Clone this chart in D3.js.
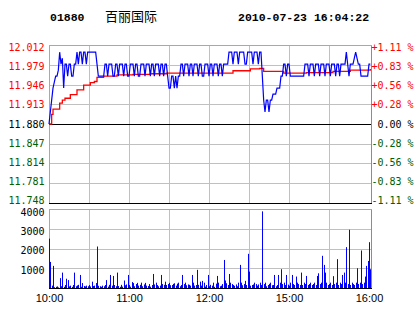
<!DOCTYPE html>
<html>
<head>
<meta charset="utf-8">
<script src="https://cdn.jsdelivr.net/npm/d3@7"></script>
<style>
  body { margin: 0; background: #fff; }
  svg text { white-space: pre; }
</style>
</head>
<body>
<div class="plot"></div>
<script>
// intraday chart 01880, price + volume

// header texts
var code = "01880";
var stockName = "百丽国际";
var stamp = "2010-07-23 16:04:22";

// tick labels
var priceTicks = ["12.012", "11.979", "11.946", "11.913", "11.880", "11.847", "11.814", "11.781", "11.748"];
var pctTicks = ["+1.11 %", "+0.83 %", "+0.56 %", "+0.28 %", " 0.00 %", "-0.28 %", "-0.56 %", "-0.83 %", "-1.11 %"];
var volTicks = [4000, 3000, 2000, 1000];
var timeLabels = ["10:00", "11:00", "12:00", "15:00", "16:00"];
var timeLabelMin = [0, 60, 120, 180, 240];

// price per minute (minute 0 = 10:00)
var price = [
  11.88,11.90,11.92,11.94,11.95,11.96,11.96,11.97,12.00,11.98,
  11.99,11.94,11.98,11.98,11.96,11.98,11.98,11.96,11.96,11.98,
  11.98,12.00,11.98,12.00,12.00,11.98,12.00,12.00,11.98,12.00,
  12.00,12.00,12.00,12.00,12.00,12.00,11.98,11.96,11.96,11.96,
  11.96,11.96,11.98,11.98,11.96,11.98,11.98,11.98,11.96,11.96,
  11.98,11.98,11.96,11.98,11.98,11.98,11.96,11.98,11.98,11.96,
  11.96,11.98,11.98,11.98,11.96,11.98,11.98,11.96,11.96,11.98,
  11.98,11.98,11.96,11.98,11.98,11.98,11.96,11.98,11.98,11.96,
  11.98,11.98,11.98,11.96,11.98,11.98,11.96,11.98,11.98,11.96,
  11.94,11.94,11.96,11.96,11.94,11.96,11.94,11.96,11.96,11.98,
  11.98,11.96,11.98,11.98,11.98,11.96,11.98,11.98,11.96,11.98,
  11.98,11.98,11.96,11.98,11.98,11.96,11.96,11.98,11.98,11.98,
  11.96,11.98,11.98,11.96,11.98,11.98,11.98,11.96,11.98,11.98,
  11.96,11.98,11.98,11.98,11.98,12.00,12.00,12.00,11.98,12.00,
  12.00,12.00,11.98,12.00,12.00,12.00,12.00,11.98,11.98,12.00,
  12.00,12.00,12.00,11.98,12.00,12.00,12.00,11.98,12.00,12.00,
  11.96,11.92,11.90,11.92,11.92,11.90,11.92,11.92,11.93,11.93,
  11.93,11.94,11.94,11.94,11.96,11.96,11.98,11.98,11.96,11.98,
  11.98,11.96,11.96,11.96,11.96,11.96,11.96,11.96,11.96,11.96,
  11.96,11.96,11.98,11.98,11.98,11.96,11.98,11.98,11.98,11.96,
  11.98,11.98,11.98,11.96,11.98,11.98,11.98,11.96,11.98,11.98,
  11.98,11.96,11.98,11.98,11.98,11.96,11.98,11.98,11.96,11.98,
  11.98,11.98,11.98,12.00,11.98,11.96,11.98,11.98,11.98,11.99,
  12.00,11.99,11.98,11.98,11.96,11.96,11.96,11.96,11.96,11.96,
  11.98,11.98
];

// volume per minute
var volume = [
  2500,1320,120,1120,40,60,80,30,500,90,
  780,60,150,470,400,80,120,60,150,780,
  90,130,160,660,60,250,100,80,120,90,
  150,80,320,100,120,250,2100,110,90,60,
  120,90,150,400,70,160,660,120,610,150,
  90,780,100,60,160,70,380,140,180,660,
  150,70,300,250,90,200,260,120,160,270,
  90,180,260,120,100,200,70,150,710,180,
  270,150,90,120,660,200,160,320,150,200,
  260,140,150,210,240,120,220,270,90,150,
  660,200,270,140,180,160,120,660,270,120,
  150,920,160,320,120,360,270,70,150,660,
  90,160,120,270,60,220,610,270,90,120,
  200,1420,380,240,150,710,270,200,150,110,
  180,90,270,1170,270,140,200,360,150,1730,
  830,120,150,180,270,200,120,180,270,150,
  3880,200,270,90,150,210,270,140,150,660,
  90,150,660,270,950,200,270,150,660,170,
  120,270,660,200,150,580,270,200,150,780,
  150,270,200,610,150,200,270,150,200,270,
  150,610,745,200,270,1630,1170,780,270,150,
  200,270,150,600,200,270,1460,150,270,200,
  660,780,270,2070,200,2950,150,270,200,150,
  270,1000,200,270,1900,200,270,580,1120,1370,
  2320,950
];

// average price line (minute where it steps, value)
var avgMin = [0,2,3,8,10,12,16,21,26,31,34,36,41,51,63,76,88,113,138,151,158,161,176,193,213,226,241];
var avgVal = [11.880,11.896,11.905,11.915,11.920,11.923,11.929,11.937,11.945,11.949,11.951,11.958,11.960,
              11.962,11.963,11.964,11.965,11.965,11.969,11.972,11.973,11.968,11.965,11.966,11.968,11.970,11.972];

var svgWidth = 414, svgHeight = 314;
var left = 49, right = 371;
var pTop = 45, pBottom = 203;
var vTop = 209, vBottom = 288;

var svg = d3.select(".plot").append("svg")
  .attr("width", svgWidth)
  .attr("height", svgHeight)
  .style("display", "block");

var x = d3.scaleLinear().domain([0, 240]).range([left, left + 320]);
var y = d3.scaleLinear().domain([11.748, 12.012]).range([pBottom, pTop]);
var yv = d3.scaleLinear().domain([0, 4000]).range([vBottom, vTop]);

var monoFont = "'DejaVu Sans Mono', monospace";
var grid = "#c0c0c0";

// header
svg.append("text").attr("x", 50).attr("y", 21)
  .style("font", "bold 11.5px 'Liberation Mono', monospace").text(code);
svg.append("text").attr("x", 105).attr("y", 20.5)
  .style("font", "13px 'Noto Sans CJK SC', sans-serif").text(stockName);
svg.append("text").attr("x", 238).attr("y", 21)
  .style("font", "bold 11.5px 'Liberation Mono', monospace").text(stamp);

// grids: price panel
var priceGridVals = d3.range(9).map(i => 11.748 + i * 0.033);
svg.append("g").selectAll("line").data(priceGridVals).enter().append("line")
  .attr("x1", left).attr("x2", right)
  .attr("y1", d => Math.round(y(d)) + 0.5).attr("y2", d => Math.round(y(d)) + 0.5)
  .attr("stroke", grid);

var vGridMin = [30, 60, 90, 120, 150, 180, 210];
[[pTop, pBottom], [vTop, vBottom]].forEach(function(r) {
  svg.append("g").selectAll("line").data(vGridMin).enter().append("line")
    .attr("x1", d => Math.round(x(d)) + 0.5).attr("x2", d => Math.round(x(d)) + 0.5)
    .attr("y1", r[0]).attr("y2", r[1])
    .attr("stroke", grid);
});

svg.append("g").selectAll("line").data([1000, 2000, 3000, 4000]).enter().append("line")
  .attr("x1", left).attr("x2", right)
  .attr("y1", d => Math.round(yv(d)) + 0.5).attr("y2", d => Math.round(yv(d)) + 0.5)
  .attr("stroke", grid);

// panel frames
[[pTop, pBottom], [vTop, vBottom]].forEach(function(r) {
  svg.append("line").attr("x1", left + 0.5).attr("x2", left + 0.5)
    .attr("y1", r[0]).attr("y2", r[1]).attr("stroke", "#a8a8a8");
  svg.append("line").attr("x1", right + 0.5).attr("x2", right + 0.5)
    .attr("y1", r[0]).attr("y2", r[1] + 1).attr("stroke", "#8c8c8c");
  svg.append("line").attr("x1", left).attr("x2", right + 1)
    .attr("y1", r[0] + 0.5).attr("y2", r[0] + 0.5).attr("stroke", "#a8a8a8");
  svg.append("line").attr("x1", left).attr("x2", right + 1)
    .attr("y1", r[1] + 0.5).attr("y2", r[1] + 0.5).attr("stroke", "#000");
});

// pre-close line
svg.append("line").attr("x1", left).attr("x2", right)
  .attr("y1", Math.round(y(11.88)) + 0.5).attr("y2", Math.round(y(11.88)) + 0.5)
  .attr("stroke", "#000");

// volume bars
svg.append("g").selectAll("line").data(volume).enter().append("line")
  .attr("x1", (d, i) => Math.round(x(i)) + 0.5)
  .attr("x2", (d, i) => Math.round(x(i)) + 0.5)
  .attr("y1", vBottom)
  .attr("y2", d => yv(d))
  .attr("stroke", "#0000ff")
  .attr("stroke-width", 1);

// average line
var avgData = avgMin.map((m, i) => [m, avgVal[i]]);
svg.append("path").datum(avgData)
  .attr("fill", "none").attr("stroke", "#ff0000").attr("stroke-width", 1.3)
  .attr("d", d3.line().x(d => x(d[0])).y(d => y(d[1])).curve(d3.curveStepAfter));

// price line
svg.append("path").datum(price)
  .attr("fill", "none").attr("stroke", "#0000ff").attr("stroke-width", 1.2)
  .attr("d", d3.line().x((d, i) => x(i)).y(d => y(d)));

// left price labels
var labelY = d3.scalePoint().domain(d3.range(9)).range([47.8, 200]);
function tickColor(i) { return i < 4 ? "#ff0000" : (i === 4 ? "#000000" : "#006000"); }

svg.append("g").selectAll("text").data(priceTicks).enter().append("text")
  .attr("x", 44.5).attr("y", (d, i) => labelY(i)).attr("dy", "0.36em")
  .attr("text-anchor", "end")
  .style("font", "10px " + monoFont)
  .attr("fill", (d, i) => tickColor(i))
  .text(d => d);

svg.append("g").selectAll("text").data(pctTicks).enter().append("text")
  .attr("x", 371.5).attr("y", (d, i) => labelY(i)).attr("dy", "0.36em")
  .style("font", "10px " + monoFont)
  .attr("fill", (d, i) => tickColor(i))
  .text(d => d);

// volume labels
var volLabelY = d3.scalePoint().domain(d3.range(4)).range([212.5, 270]);
svg.append("g").selectAll("text").data(volTicks).enter().append("text")
  .attr("x", 44.5).attr("y", (d, i) => volLabelY(i)).attr("dy", "0.36em")
  .attr("text-anchor", "end")
  .style("font", "10px " + monoFont)
  .attr("fill", "#000")
  .text(d => d);

// time labels
svg.append("g").selectAll("text").data(timeLabels).enter().append("text")
  .attr("x", (d, i) => x(timeLabelMin[i]) + 0.5).attr("y", 302)
  .attr("text-anchor", "middle")
  .style("font", "11px 'Liberation Sans', Arial, sans-serif")
  .text(d => d);
</script>
</body>
</html>
